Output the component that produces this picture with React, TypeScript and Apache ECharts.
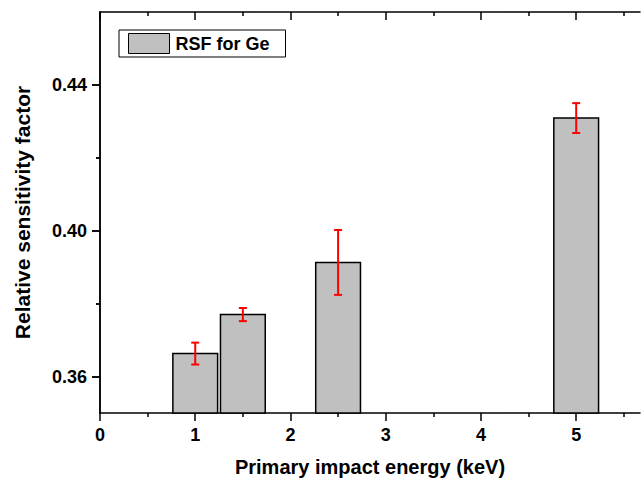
import React, { useEffect, useRef } from "react";
import * as echarts from "echarts";

const energies = [1, 1.5, 2.5, 5];
const rsfValues = [0.3663, 0.377, 0.3913, 0.4309];
const rsfErrors = [0.003, 0.0018, 0.0089, 0.0041];

const xMajorTicks = [0, 1, 2, 3, 4, 5];
const xMinorTicks = [0.5, 1.5, 2.5, 3.5, 4.5, 5.5];
const yMajorTicks = [0.36, 0.4, 0.44];
const yMinorTicks = [0.38, 0.42];

const X_MIN = 0;
const X_MAX = 5.67;
const Y_MIN = 0.35;
const Y_MAX = 0.46;
const BAR_HALF = 0.235;

const FONT = "'Liberation Sans', Arial, sans-serif";

export default function App() {
  const ref = useRef<HTMLDivElement>(null);
  useEffect(() => {
    if (!ref.current) return;
    const chart = echarts.init(ref.current, null, { renderer: "svg" });
    const line = { show: true, lineStyle: { color: "#000", width: 1.5 } };
    const noLine = { show: false };
    const mkX = (pos: string, vals: number[], len: number, inside: boolean, withLabel: boolean, withLine: boolean, extra: any = {}) => ({
      type: "value",
      min: X_MIN,
      max: X_MAX,
      position: pos,
      axisLine: withLine ? line : noLine,
      splitLine: { show: false },
      axisTick: { show: true, customValues: vals, length: len, inside, lineStyle: { color: "#000", width: 1.5 } },
      axisLabel: withLabel
        ? { show: true, customValues: vals, fontFamily: FONT, fontWeight: "bold", fontSize: 18, color: "#000", margin: 13 }
        : { show: false },
      ...extra,
    });
    const mkY = (pos: string, vals: number[], len: number, inside: boolean, withLabel: boolean, withLine: boolean, extra: any = {}) => ({
      type: "value",
      min: Y_MIN,
      max: Y_MAX,
      position: pos,
      axisLine: withLine ? line : noLine,
      splitLine: { show: false },
      axisTick: { show: true, customValues: vals, length: len, inside, lineStyle: { color: "#000", width: 1.5 } },
      axisLabel: withLabel
        ? {
            show: true,
            customValues: vals,
            fontFamily: FONT,
            fontWeight: "bold",
            fontSize: 18,
            color: "#000",
            margin: 13,
            formatter: (v: number) => v.toFixed(2),
          }
        : { show: false },
      ...extra,
    });

    chart.setOption({
      animation: false,
      grid: { left: 100, right: 3, top: 12, bottom: 69, containLabel: false },
      legend: {
        show: true,
        left: 119,
        top: 30,
        orient: "horizontal",
        padding: [3, 16, 3, 9],
        itemWidth: 41,
        itemHeight: 20,
        itemGap: 7,
        borderColor: "#000",
        borderWidth: 1,
        textStyle: { fontFamily: FONT, fontWeight: "bold", fontSize: 18, color: "#000", padding: [0, 0, 0, 1] },
        data: [
          {
            name: "RSF for Ge",
            icon: "rect",
            itemStyle: { color: "#c0c0c0", borderColor: "#000", borderWidth: 1 },
          },
        ],
      },
      xAxis: [
        mkX("bottom", xMajorTicks, 8, false, true, true, {
          name: "Primary impact energy (keV)",
          nameLocation: "middle",
          nameGap: 44,
          nameTextStyle: { fontFamily: FONT, fontWeight: "bold", fontSize: 20, color: "#000" },
        }),
        mkX("bottom", xMinorTicks, 4, false, false, false),
        mkX("top", xMajorTicks, 8, true, false, true),
        mkX("top", xMinorTicks, 4, true, false, false),
      ],
      yAxis: [
        mkY("left", yMajorTicks, 8, false, true, true, {
          name: "Relative sensitivity factor",
          nameLocation: "middle",
          nameGap: 67,
          nameTextStyle: { fontFamily: FONT, fontWeight: "bold", fontSize: 21, color: "#000" },
        }),
        mkY("left", yMinorTicks, 4, false, false, false),
        mkY("right", yMajorTicks, 8, true, false, true),
        mkY("right", yMinorTicks, 4, true, false, false),
      ],
      series: [
        {
          name: "RSF for Ge",
          type: "custom",
          xAxisIndex: 0,
          yAxisIndex: 0,
          encode: { x: 0, y: 1 },
          itemStyle: { color: "#c0c0c0", borderColor: "#000", borderWidth: 1 },
          data: energies.map((e, i) => [e, rsfValues[i]]),
          renderItem: (params: any, api: any) => {
            const x = api.value(0);
            const y = api.value(1);
            const p1 = api.coord([x - BAR_HALF, y]);
            const p2 = api.coord([x + BAR_HALF, Y_MIN]);
            return {
              type: "rect",
              shape: { x: p1[0], y: p1[1], width: p2[0] - p1[0], height: p2[1] - p1[1] },
              style: { fill: "#c0c0c0", stroke: "#000", lineWidth: 1.5 },
            };
          },
        },
        {
          name: "error",
          type: "custom",
          xAxisIndex: 0,
          yAxisIndex: 0,
          encode: { x: 0, y: 1 },
          z: 5,
          data: energies.map((e, i) => [e, rsfValues[i], rsfErrors[i]]),
          renderItem: (params: any, api: any) => {
            const x = api.value(0);
            const y = api.value(1);
            const err = api.value(2);
            const top = api.coord([x, y + err]);
            const bot = api.coord([x, y - err]);
            const cap = 4;
            const st = { stroke: "#ff0000", lineWidth: 2 };
            return {
              type: "group",
              children: [
                { type: "line", shape: { x1: top[0], y1: top[1], x2: bot[0], y2: bot[1] }, style: st },
                { type: "line", shape: { x1: top[0] - cap, y1: top[1], x2: top[0] + cap, y2: top[1] }, style: st },
                { type: "line", shape: { x1: bot[0] - cap, y1: bot[1], x2: bot[0] + cap, y2: bot[1] }, style: st },
              ],
            };
          },
        },
      ],
    });
    return () => chart.dispose();
  }, []);
  return <div ref={ref} style={{ width: 643, height: 482, position: "absolute", left: 0, top: 0 }} />;
}
